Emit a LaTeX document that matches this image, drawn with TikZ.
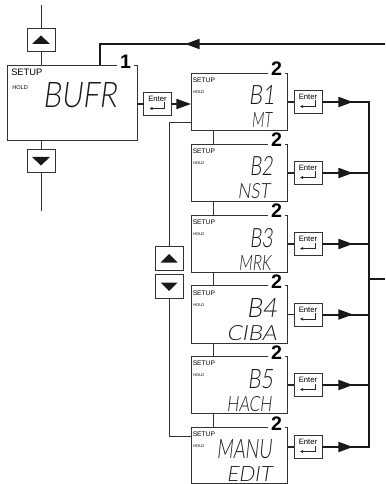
\documentclass[tikz,border=0pt]{standalone}
\usepackage{fontspec}
\usepackage{graphicx}
\setmainfont{Liberation Sans}
\IfFontExistsTF{Lato Light}{%
  \newfontfamily\segfont{Lato Light}[FakeSlant=0.16]}{%
  \IfFontExistsTF{DejaVu Sans ExtraLight}{%
    \newfontfamily\segfont{DejaVu Sans ExtraLight}[FakeSlant=0.16]}{%
    \newfontfamily\segfont{Liberation Sans}[FakeSlant=0.16]}}
\newcommand\segtext[3]{\resizebox{#1pt}{#2pt}{\segfont #3}}
\usetikzlibrary{arrows.meta,calc}
\begin{document}
\begin{tikzpicture}[x=0.75pt,y=-0.75pt,line join=miter,
  boxA/.style={draw=black!80,line width=0.6pt,minimum width=97.5pt,minimum height=56.25pt,inner sep=0,outer sep=0},
  boxB/.style={draw=black!80,line width=0.6pt,minimum width=72pt,inner sep=0,outer sep=0},
  btn/.style={draw=black!80,fill=white,line width=0.6pt,minimum width=21pt,minimum height=17.5pt,inner sep=0,outer sep=0},
  enterbtn/.style={draw=black!80,fill=white,line width=0.6pt,minimum width=21pt,minimum height=17.25pt,inner sep=0,outer sep=0},
  entertxt/.style={font=\fontsize{5.8}{6}\selectfont,inner sep=0},
  retarrow/.style={draw=black!85,line width=0.5pt,-{Stealth[length=2.5pt,width=2.4pt]}},
  thin/.style={draw=black!80,line width=0.6pt},
  stub/.style={draw=black!85,line width=1.1pt},
  heavy/.style={draw=black!90,line width=1.5pt},
  tipped/.style={-{Triangle[length=11pt,width=7.5pt]}},
  numlbl/.style={font=\fontsize{14.7}{15}\selectfont\bfseries,fill=white,inner xsep=2pt,inner ysep=0.5pt,anchor=base},
  setupA/.style={font=\fontsize{7}{8}\selectfont,inner sep=0,anchor=base west},
  holdA/.style={font=\fontsize{4.2}{5}\selectfont,inner sep=0,anchor=base west},
  setupB/.style={font=\fontsize{5}{6}\selectfont,inner sep=0,anchor=base west},
  holdB/.style={font=\fontsize{3}{4}\selectfont,inner sep=0,anchor=base west},
  segnode/.style={inner sep=0,anchor=base east,text=black!90}
]
\useasboundingbox (0,0) rectangle (385,484);

% ---- left column: box 1 with up/down keys
\coordinate (topend) at (41,5);
\coordinate (botend) at (41,211);
\node[boxA] (a) at (72,102.5) {};
\node[btn] (u0) at (41,40) {};
\node[btn] (d0) at (41,161) {};
\fill[black!90] ($(u0)+(-9,4)$) -- ($(u0)+(9,4)$) -- ($(u0)+(0,-4.5)$) -- cycle;
\fill[black!90] ($(d0)+(-9,-4)$) -- ($(d0)+(9,-4)$) -- ($(d0)+(0,4.5)$) -- cycle;
\draw[thin] (topend) -- (u0.north);
\draw[thin] (u0.south) -- (u0 |- a.north);
\draw[thin] (d0 |- a.south) -- (d0.north);
\draw[thin] (d0.south) -- (botend);
\node[numlbl] (n0) at (125.5,69) {1};
\node[setupA] (sa) at (11,76) {SETUP};
\node[holdA] (ha) at (12,89.5) {HOLD};
\node[segnode] (ta) at (117,108) {\segtext{55.5}{18.75}{BUFR}};

% enter key of box 1
\node[enterbtn] (e0) at (157.5,104) {};
\node[entertxt] (e0t) at ($(e0)+(0,-5)$) {Enter};
\draw[retarrow] ($(e0)+(7,-1.5)$) -- ($(e0)+(7,4.5)$) -- ($(e0)+(-8,4.5)$);
\draw[stub] (e0.west -| a.east) -- (e0.west);

% feedback line on top
\coordinate (fbin) at (385,44);
\coordinate (fbc) at (100,44);
\coordinate (fbtip) at (185,44);
\draw[heavy] (fbin) -- (fbc) -- (fbc |- a.north);
\draw[heavy,tipped] (fbin) -- (fbtip);

% ---- column of boxes 2
\coordinate (cx) at (213,0);
\coordinate (busx) at (369,0);
\foreach \i/\t/\h/\ey/\ra/\rb/\ba/\bb/\la/\lb/\wa/\wb in {
  1/73/57.5/29/275/272/32/55/B1/MT/26/20,
  2/144/57.5/29/273/270/32/55/B2/NST/23/32,
  3/215/57.5/29/273/271/32/55/B3/MRK/23/32,
  4/285.5/57.5/29/277/277/32/55/B4/CIBA/30/50,
  5/356/57.5/29/273/272/32/55/B5/HACH/25/45,
  6/427/56/20/272/272/31/54/MANU/EDIT/55/45}{
  \pgfmathsetmacro\wapt{\wa*0.75}
  \pgfmathsetmacro\wbpt{\wb*0.75}
  \node[boxB,minimum height=\h*0.75pt] (b\i) at (239,{\t+\h/2}) {};
  \node[numlbl] (n\i) at (276.5,{\t+3}) {2};
  \node[setupB] (s\i) at (192.5,{\t+9.5}) {SETUP};
  \node[holdB] (h\i) at (193,{\t+20.5}) {HOLD};
  \node[segnode] (p\i) at (\ra,{\t+\ba}) {\segtext{\wapt}{14.25}{\la}};
  \node[segnode] (q\i) at (\rb,{\t+\bb}) {\segtext{\wbpt}{11.25}{\lb}};
  \node[enterbtn] (e\i) at (308,{\t+\ey}) {};
  \node[entertxt] (et\i) at ($(e\i)+(0,-5)$) {Enter};
  \draw[retarrow] ($(e\i)+(7,-1.5)$) -- ($(e\i)+(7,4.5)$) -- ($(e\i)+(-8,4.5)$);
  \draw[stub] (e\i.west -| b\i.east) -- (e\i.west);
  \coordinate (bus\i) at (busx |- e\i);
  \draw[heavy,tipped] (e\i.east) -- ($(e\i.east)+(31,0)$);
}
\draw[heavy,tipped] (e0.east) -- (e0.east -| b1.west);

% vertical links between boxes
\foreach \i/\j in {1/2,2/3,3/4,4/5,5/6}{
  \draw[thin] (b\i.south -| cx) -- (b\j.north -| cx);
}

% right bus
\draw[heavy] (e1.east) -- (bus1) -- (bus6) -- (e6.east);
\foreach \i in {2,3,4,5}{ \draw[heavy] (e\i.east) -- (bus\i); }
\coordinate (busout) at (385,279);
\draw[heavy] (busx |- busout) -- (busout);

% left loop with up/down keys
\coordinate (l1) at (169,122);
\coordinate (l6) at (169,436);
\node[btn] (u1) at (169,258.5) {};
\node[btn] (d1) at (169,286.5) {};
\fill[black!90] ($(u1)+(-8.5,4)$) -- ($(u1)+(8.5,4)$) -- ($(u1)+(0,-4.5)$) -- cycle;
\fill[black!90] ($(d1)+(-8.5,-4)$) -- ($(d1)+(8.5,-4)$) -- ($(d1)+(0,4.5)$) -- cycle;
\draw[thin] (l1 -| b1.west) -- (l1) -- (u1.north);
\draw[thin] (d1.south) -- (l6) -- (l6 -| b6.west);
\end{tikzpicture}
\end{document}
